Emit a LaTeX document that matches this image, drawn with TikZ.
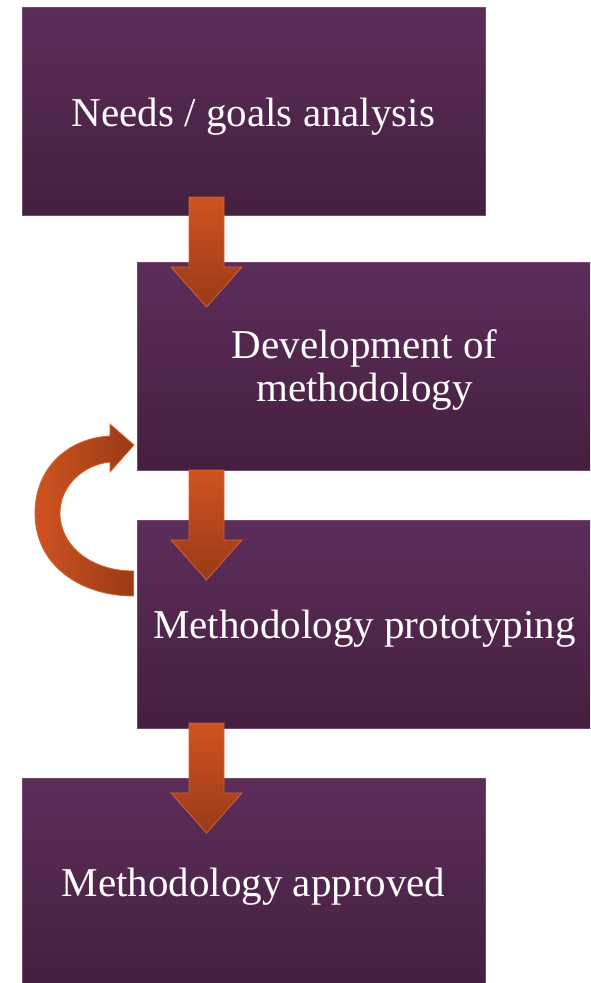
\documentclass[tikz,border=0pt]{standalone}
\usepackage{fontspec}
\setmainfont{Liberation Serif}
\usetikzlibrary{calc}
\definecolor{boxtop}{HTML}{5D2D5A}
\definecolor{boxbot}{HTML}{451F3F}
\definecolor{boxline}{HTML}{72486C}
\definecolor{arrtop}{HTML}{D05321}
\definecolor{arrbot}{HTML}{983A17}
\definecolor{arrline}{HTML}{D4622F}
\tikzset{
  stagebox/.style={draw=boxline, line width=0.8pt, top color=boxtop, bottom color=boxbot,
    minimum width=463pt, minimum height=208pt, inner sep=0pt, text=white,
    text height=38pt, text depth=9pt,
    align=center, font=\fontsize{41}{43}\selectfont},
  flowarrow/.style={draw=arrline, line width=0.8pt, top color=arrtop, bottom color=arrbot},
  looparrow/.style={draw=arrline, line width=0.8pt, left color=arrtop, right color=arrbot}
}
\begin{document}
\begin{tikzpicture}[x=1pt,y=-1pt]
\useasboundingbox (0,0) rectangle (590,983);
\begin{scope}
\clip (0,0) rectangle (590,983);
\node[stagebox] (b1) at (253.5,111.5) {Needs / goals analysis};
\node[stagebox, minimum width=455pt, text height=80pt] (b2) at (364.5,366) {Development of\\methodology};
\node[stagebox, minimum width=455pt] (b3) at (364.5,624) {Methodology prototyping};
\node[stagebox] (b4) at (253.5,882) {Methodology approved};
\end{scope}
% straight arrows
\coordinate (a1) at (206.5,197);
\coordinate (a2) at (206.5,470);
\coordinate (a3) at (206.5,723);
\foreach \a in {a1,a2,a3}{
  \draw[flowarrow] ($(\a)+(-17.5,0)$) -- ($(\a)+(17.5,0)$) -- ($(\a)+(17.5,70)$)
    -- ($(\a)+(35.5,70)$) -- ($(\a)+(0,110)$) -- ($(\a)+(-35.5,70)$)
    -- ($(\a)+(-17.5,70)$) -- cycle;
}
% loop arrow from prototyping back to development
\coordinate (lt) at ($(b3.west)+(-3,-53)$);
\draw[looparrow] ($(lt)+(0,25)$)
   .. controls (80,596) and (35,565) .. (35,513)
   .. controls (35,468) and (68,438) .. (110,436)
   -- (110,424) -- (134,445) -- (110,472) -- (110,462)
   .. controls (82,465) and (60,487) .. (60,513)
   .. controls (60,545) and (90,571) .. (lt) -- cycle;
\end{tikzpicture}
\end{document}
